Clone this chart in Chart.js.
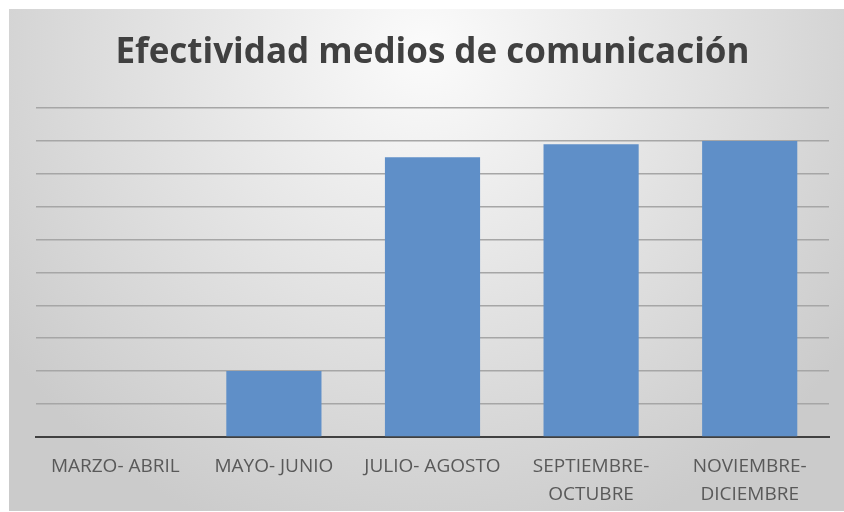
<!DOCTYPE html>
<html lang="es">
<head>
    <meta charset="UTF-8">
    <title>Efectividad medios de comunicación</title>
    <script src="https://cdn.jsdelivr.net/npm/chart.js"></script>
    <style>
        body { margin: 0; background: #ffffff; }
        .marco { position: absolute; left: 9px; top: 9px; width: 835px; height: 502px; }
    </style>
</head>
<body>
    <div class="marco">
        <canvas id="grafico"></canvas>
    </div>
<script>
    // periodos y efectividad de cada uno
    const periodos = [
        "MARZO- ABRIL",
        "MAYO- JUNIO",
        "JULIO- AGOSTO",
        ["SEPTIEMBRE-", "OCTUBRE"],
        ["NOVIEMBRE-", "DICIEMBRE"]
    ];
    const efectividad = [0, 2, 8.5, 8.9, 9];

    // fondo degradado gris como el de Excel
    const fondo = {
        id: "fondo",
        beforeDraw(chart) {
            const ctx = chart.ctx;
            const w = chart.width, h = chart.height;
            const g = ctx.createRadialGradient(w * 0.5, h * 0.08, 0, w * 0.5, h * 0.08, w * 0.62);
            g.addColorStop(0, "#fbfbfb");
            g.addColorStop(1, "#cbcbcb");
            ctx.save();
            ctx.fillStyle = g;
            ctx.fillRect(0, 0, w, h);
            ctx.restore();
        }
    };

    new Chart(document.getElementById("grafico"), {
        type: "bar",
        data: {
            labels: periodos,
            datasets: [{
                data: efectividad,
                backgroundColor: "#5f8fc8",
                categoryPercentage: 1,
                barPercentage: 0.6
            }]
        },
        options: {
            responsive: true,
            maintainAspectRatio: false,
            animation: false,
            layout: { padding: { left: 27, right: 15, top: 0, bottom: -5 } },
            plugins: {
                legend: { display: false },
                tooltip: { enabled: false },
                title: {
                    display: true,
                    text: "Efectividad medios de comunicación",
                    color: "#404040",
                    font: { family: "Open Sans", size: 35, weight: "bold" },
                    padding: { top: 23, bottom: 34 }
                }
            },
            scales: {
                x: {
                    grid: { display: false },
                    border: { color: "#404040", width: 2 },
                    ticks: {
                        color: "#595959",
                        font: { family: "Open Sans", size: 19, lineHeight: 1.45 },
                        padding: 8,
                        maxRotation: 0
                    }
                },
                y: {
                    min: 0,
                    max: 10,
                    ticks: { display: false, stepSize: 1 },
                    border: { display: false },
                    grid: {
                        color: "#a6a6a6",
                        lineWidth: 1.5,
                        drawTicks: false
                    }
                }
            }
        },
        plugins: [fondo]
    });
</script>
</body>
</html>
